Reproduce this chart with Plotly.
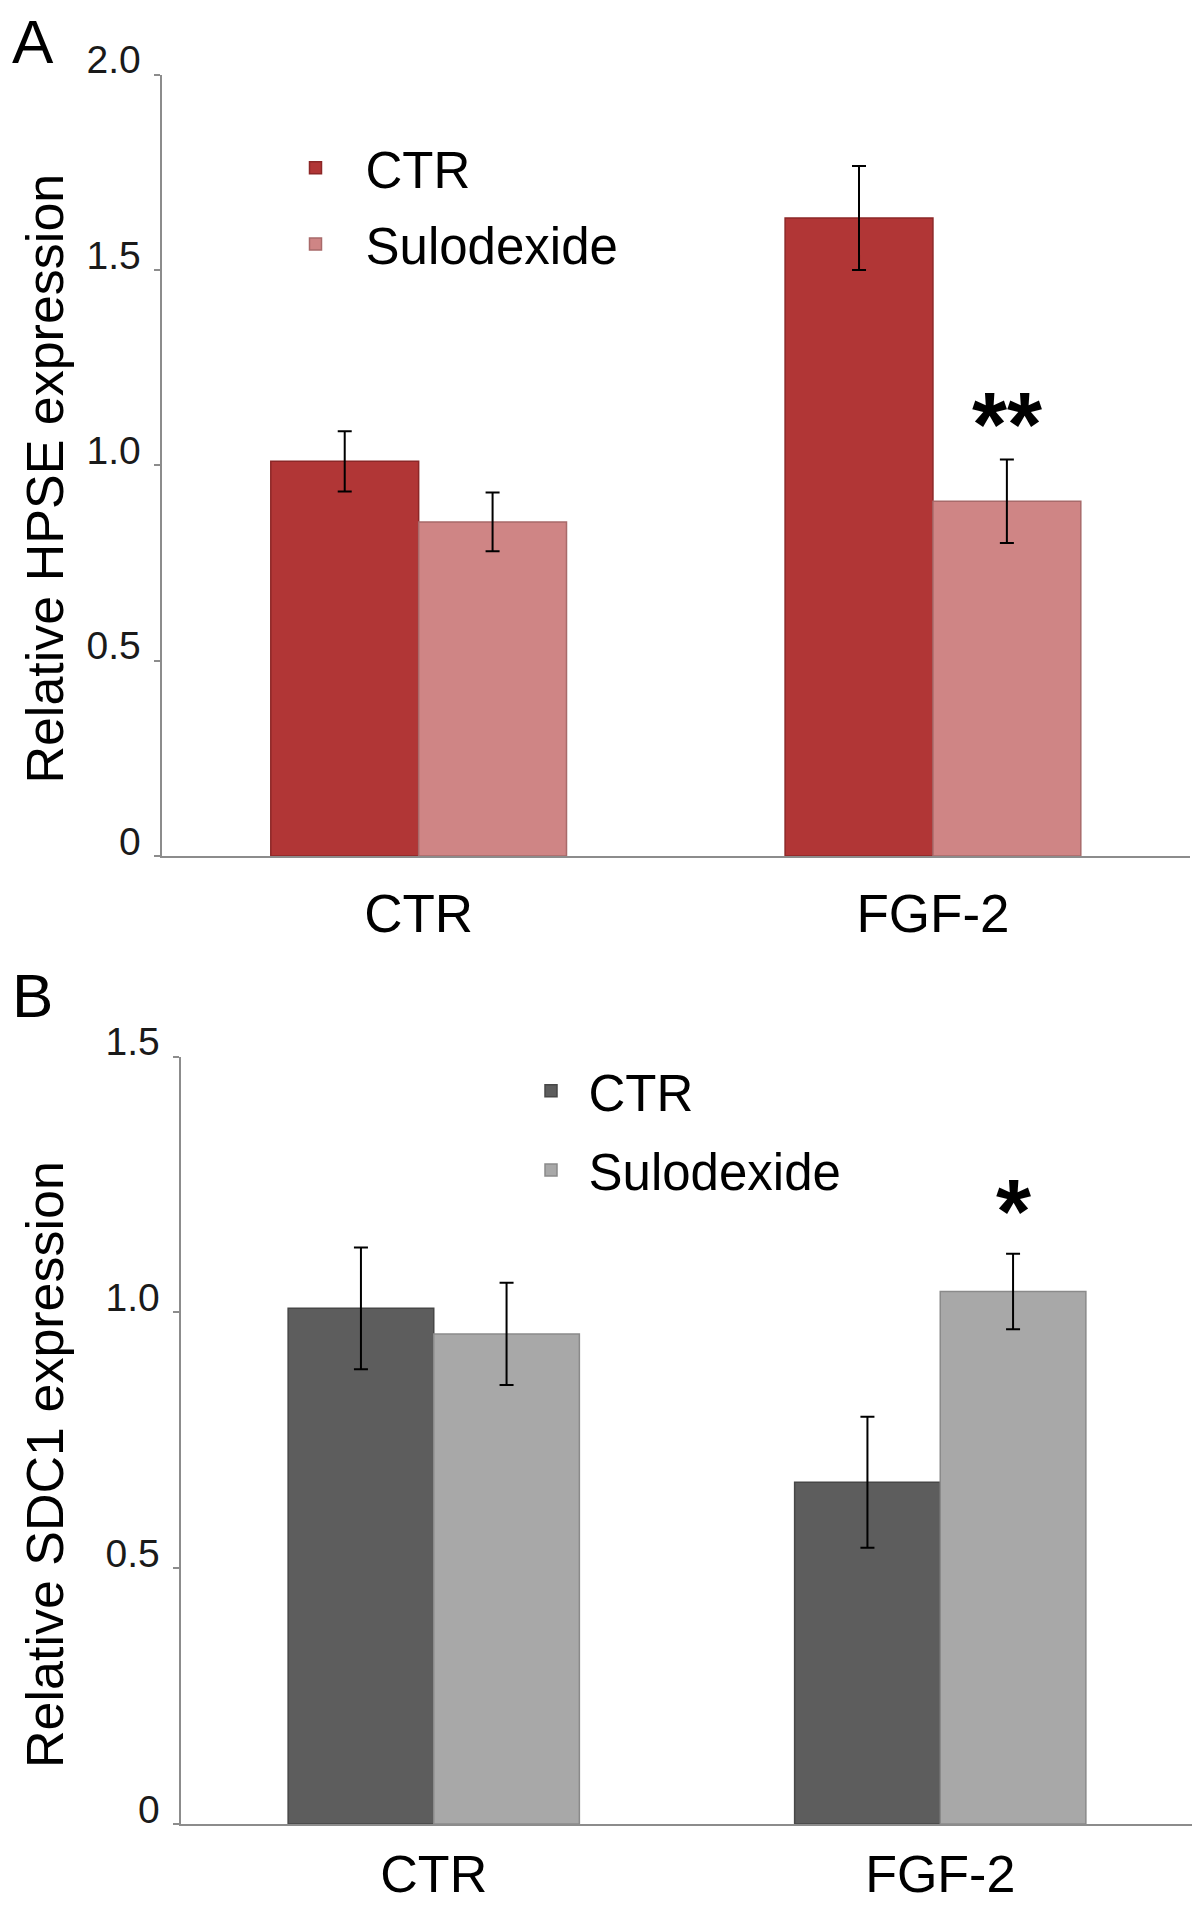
import plotly.graph_objects as go

# ---------------- data ----------------
categories = ["CTR", "FGF-2"]
series_names = ["CTR", "Sulodexide"]

hpse_ctr = [1.01, 1.633]
hpse_ctr_err = [0.077, 0.133]
hpse_sulo = [0.855, 0.908]
hpse_sulo_err = [0.075, 0.107]

sdc1_ctr = [1.008, 0.668]
sdc1_ctr_err = [0.119, 0.128]
sdc1_sulo = [0.958, 1.041]
sdc1_sulo_err = [0.10, 0.074]

hpse_ticks = [0, 0.5, 1.0, 1.5, 2.0]
hpse_ticktext = ["0", "0.5", "1.0", "1.5", "2.0"]
sdc1_ticks = [0, 0.5, 1.0, 1.5]
sdc1_ticktext = ["0", "0.5", "1.0", "1.5"]

# significance marks: (category index, value where symbol sits, text)
hpse_sig = (1, 1.137, "**")
sdc1_sig = (1, 1.224, "*")

# ---------------- style ----------------
FONT = "Arial, Liberation Sans, sans-serif"
RED = "#b13636"
RED_LINE = "#8c2727"
PINK = "#cf8585"
PINK_LINE = "#a86a6a"
DGRAY = "#5d5d5d"
DGRAY_LINE = "#474747"
LGRAY = "#a8a8a8"
LGRAY_LINE = "#8a8a8a"
AXIS = "#8c8c8c"
BARGAP = 0.425

fig = go.Figure()


def err(vals):
    return dict(type="data", array=vals, visible=True, color="black",
                thickness=2, width=7)


fig.add_trace(go.Bar(x=categories, y=hpse_ctr, name=series_names[0],
                     marker=dict(color=RED, line=dict(color=RED_LINE, width=1.5)),
                     error_y=err(hpse_ctr_err), xaxis="x", yaxis="y",
                     legend="legend", legendgroup="a1"))
fig.add_trace(go.Bar(x=categories, y=hpse_sulo, name=series_names[1],
                     marker=dict(color=PINK, line=dict(color=PINK_LINE, width=1.5)),
                     error_y=err(hpse_sulo_err), xaxis="x", yaxis="y",
                     legend="legend", legendgroup="a2"))
fig.add_trace(go.Bar(x=categories, y=sdc1_ctr, name=series_names[0],
                     marker=dict(color=DGRAY, line=dict(color=DGRAY_LINE, width=1.5)),
                     error_y=err(sdc1_ctr_err), xaxis="x2", yaxis="y2",
                     legend="legend2", legendgroup="b1"))
fig.add_trace(go.Bar(x=categories, y=sdc1_sulo, name=series_names[1],
                     marker=dict(color=LGRAY, line=dict(color=LGRAY_LINE, width=1.5)),
                     error_y=err(sdc1_sulo_err), xaxis="x2", yaxis="y2",
                     legend="legend2", legendgroup="b2"))

W, H = 1200, 1905


def py(px):
    return 1 - px / H


xaxis_common = dict(type="category", showline=True, linecolor=AXIS, linewidth=2,
                    ticks="", showgrid=False, zeroline=False, automargin=False,
                    fixedrange=True)
yaxis_common = dict(showline=True, linecolor=AXIS, linewidth=2, ticks="outside",
                    ticklen=6, tickwidth=1.5, tickcolor=AXIS, showgrid=False,
                    zeroline=False, ticklabelshift=-15, ticklabelstandoff=5,
                    automargin=False, fixedrange=True,
                    tickfont=dict(family=FONT, size=39, color="#1a1a1a"))

bar_offset = (1 - BARGAP) / 4  # centre of 2nd bar within a category slot

fig.update_layout(
    template="none",
    width=W, height=H, autosize=False,
    margin=dict(l=0, r=0, t=0, b=0, pad=0),
    paper_bgcolor="white", plot_bgcolor="white",
    barmode="group", bargap=BARGAP, bargroupgap=0,
    font=dict(family=FONT, color="black"),
    xaxis=dict(domain=[153.5 / W, 1182.1 / W], anchor="y",
               ticklabelstandoff=10,
               tickfont=dict(family=FONT, size=53, color="black"),
               **xaxis_common),
    yaxis=dict(domain=[py(848), py(66.5)], range=[0, 2], anchor="x",
               tickvals=hpse_ticks, ticktext=hpse_ticktext, **yaxis_common),
    xaxis2=dict(domain=[172.5 / W, 1185.5 / W], anchor="y2",
                ticklabelstandoff=4,
                tickfont=dict(family=FONT, size=52, color="black"),
                **xaxis_common),
    yaxis2=dict(domain=[py(1816), py(1048.7)], range=[0, 1.5], anchor="x2",
                tickvals=sdc1_ticks, ticktext=sdc1_ticktext, **yaxis_common),
    legend=dict(x=257.5 / W, y=py(120), xanchor="left", yanchor="top",
                traceorder="grouped", tracegroupgap=7, itemwidth=90,
                borderwidth=0,
                font=dict(family=FONT, size=51, color="black"),
                bgcolor="rgba(0,0,0,0)"),
    legend2=dict(x=505.5 / W, y=py(1043), xanchor="left", yanchor="top",
                 traceorder="grouped", tracegroupgap=10, itemwidth=65,
                 borderwidth=0,
                 font=dict(family=FONT, size=51, color="black"),
                 bgcolor="rgba(0,0,0,0)"),
    annotations=[
        dict(text="A", xref="paper", yref="paper", x=0, y=1, xanchor="left",
             yanchor="top", showarrow=False, yshift=3, xshift=2,
             font=dict(family=FONT, size=62, color="black")),
        dict(text="B", xref="paper", yref="paper", x=0, y=py(951), xanchor="left",
             yanchor="top", showarrow=False, xshift=2,
             font=dict(family=FONT, size=62, color="black")),
        dict(text="Relative HPSE expression", xref="paper", yref="paper",
             x=37 / W, y=py(470.6), xanchor="center", yanchor="middle",
             textangle=-90, showarrow=False,
             font=dict(family=FONT, size=52, color="black")),
        dict(text="Relative SDC1 expression", xref="paper", yref="paper",
             x=37 / W, y=py(1457), xanchor="center", yanchor="middle",
             textangle=-90, showarrow=False,
             font=dict(family=FONT, size=52, color="black")),
        dict(text="<b>" + hpse_sig[2] + "</b>", xref="x", yref="y",
             x=hpse_sig[0] + bar_offset, y=hpse_sig[1], xanchor="center",
             yanchor="middle", yshift=-13, showarrow=False,
             font=dict(family=FONT, size=90, color="black")),
        dict(text="<b>" + sdc1_sig[2] + "</b>", xref="x2", yref="y2",
             x=sdc1_sig[0] + bar_offset, y=sdc1_sig[1], xanchor="center",
             yanchor="middle", yshift=-14, showarrow=False,
             font=dict(family=FONT, size=90, color="black")),
    ],
)

fig.write_html("out.html")
